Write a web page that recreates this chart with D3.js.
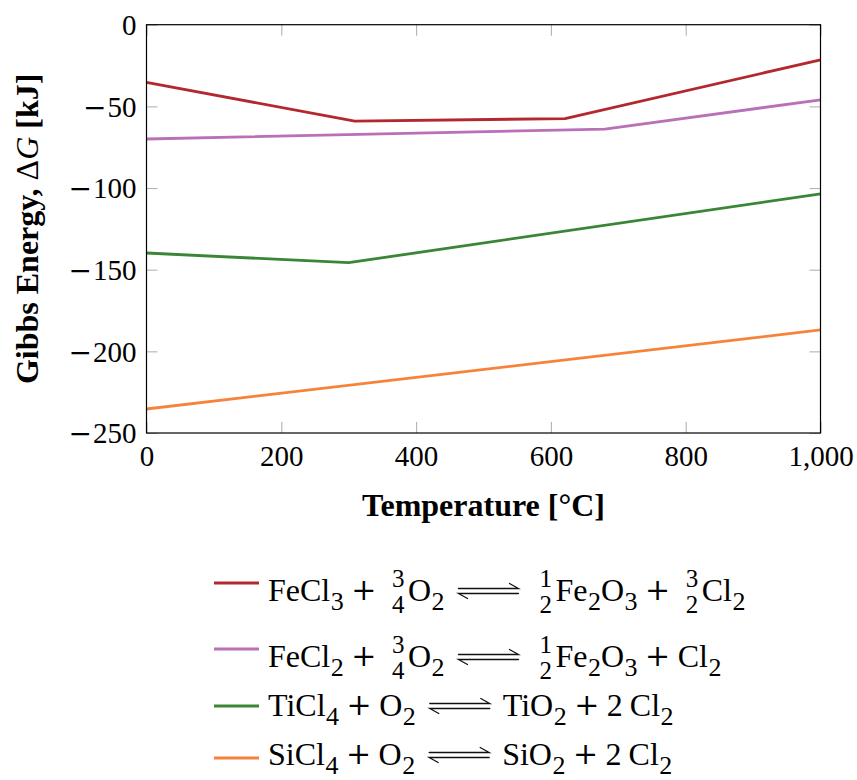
<!DOCTYPE html>
<html>
<head>
<meta charset="utf-8">
<script src="https://cdn.jsdelivr.net/npm/d3@7/dist/d3.min.js"></script>
<style>
  html, body { margin: 0; padding: 0; background: #fff; }
  svg { display: block; font-family: "Liberation Serif", "DejaVu Serif", serif; }
</style>
</head>
<body>
<svg id="chart" width="857" height="780"></svg>
<script>
// Gibbs energy of chlorination/oxidation reactions versus temperature
const tempFeCl3  = [0, 309, 621, 1000];
const gibbsFeCl3 = [-35.3, -59.0, -57.5, -21.5];
const tempFeCl2  = [0, 680, 1000];
const gibbsFeCl2 = [-70.0, -63.9, -46.0];
const tempTiCl4  = [0, 300, 1000];
const gibbsTiCl4 = [-139.8, -145.7, -103.6];
const tempSiCl4  = [0, 1000];
const gibbsSiCl4 = [-235.3, -186.9];

const xTicks = [0, 200, 400, 600, 800, 1000];
const yTicks = [-250, -200, -150, -100, -50, 0];

const seriesColors = ["#b3282e", "#b970b7", "#3a8636", "#f5843a"];

// Legend equations as token lists: t = text, sub = subscript,
// op = binary operator, frac = stacked fraction, arrow = equilibrium, sp = thin space
const legendFeCl3 = [{t:"FeCl"},{sub:"3"},{op:"+"},{frac:["3","4"]},{t:"O"},{sub:"2"},{arrow:1},
                     {frac:["1","2"]},{t:"Fe"},{sub:"2"},{t:"O"},{sub:"3"},{op:"+"},{frac:["3","2"]},{t:"Cl"},{sub:"2"}];
const legendFeCl2 = [{t:"FeCl"},{sub:"2"},{op:"+"},{frac:["3","4"]},{t:"O"},{sub:"2"},{arrow:1},
                     {frac:["1","2"]},{t:"Fe"},{sub:"2"},{t:"O"},{sub:"3"},{op:"+"},{t:"Cl"},{sub:"2"}];
const legendTiCl4 = [{t:"TiCl"},{sub:"4"},{op:"+"},{t:"O"},{sub:"2"},{arrow:1},
                     {t:"TiO"},{sub:"2"},{op:"+"},{t:"2"},{sp:1},{t:"Cl"},{sub:"2"}];
const legendSiCl4 = [{t:"SiCl"},{sub:"4"},{op:"+"},{t:"O"},{sub:"2"},{arrow:1},
                     {t:"SiO"},{sub:"2"},{op:"+"},{t:"2"},{sp:1},{t:"Cl"},{sub:"2"}];

const series = [
  {T: tempFeCl3, G: gibbsFeCl3, legend: legendFeCl3},
  {T: tempFeCl2, G: gibbsFeCl2, legend: legendFeCl2},
  {T: tempTiCl4, G: gibbsTiCl4, legend: legendTiCl4},
  {T: tempSiCl4, G: gibbsSiCl4, legend: legendSiCl4}
];

const svg = d3.select("#chart");
const plot = {left: 146.5, right: 820.5, top: 24.7, bottom: 433};

const x = d3.scaleLinear().domain([0, 1000]).range([plot.left, plot.right]);
const y = d3.scaleLinear().domain([-250, 0]).range([plot.bottom, plot.top]);

const tickFont = 29;
const thousands = v => d3.format(",")(v);

// Inward tick marks on all four sides
function styleAxis(g) {
  g.select(".domain").remove();
  g.selectAll(".tick line").attr("stroke", "#b3b3b3").attr("stroke-width", 1.1);
}

svg.append("g")
  .attr("transform", `translate(0,${plot.bottom})`)
  .call(d3.axisBottom(x).tickValues(xTicks).tickSizeInner(-11).tickSizeOuter(0).tickFormat(thousands))
  .call(styleAxis)
  .call(g => g.selectAll(".tick text")
    .attr("y", 33).attr("dy", 0)
    .style("font-size", tickFont + "px").style("font-family", "Liberation Serif").attr("fill", "#000"));

svg.append("g")
  .attr("transform", `translate(0,${plot.top})`)
  .call(d3.axisTop(x).tickValues(xTicks).tickSizeInner(-11).tickSizeOuter(0).tickFormat(""))
  .call(styleAxis);

// Left axis: labels with a long typographic minus
svg.append("g")
  .attr("transform", `translate(${plot.left},0)`)
  .call(d3.axisLeft(y).tickValues(yTicks).tickSizeInner(-11).tickSizeOuter(0).tickFormat(""))
  .call(styleAxis)
  .call(g => g.selectAll(".tick").each(function(d) {
    const t = d3.select(this).append("text")
      .attr("x", -10).attr("dy", "0.34em").attr("text-anchor", "end").attr("fill", "#000")
      .style("font-size", tickFont + "px").style("font-family", "Liberation Serif");
    if (d < 0) {
      t.append("tspan").style("font-family", "DejaVu Serif").style("font-size", "28px").text("\u2212");
      t.append("tspan").attr("dx", 1).text(Math.abs(d));
    } else {
      t.text(d);
    }
  }));

svg.append("g")
  .attr("transform", `translate(${plot.right},0)`)
  .call(d3.axisRight(y).tickValues(yTicks).tickSizeInner(-11).tickSizeOuter(0).tickFormat(""))
  .call(styleAxis);

// Data lines
const line = d3.line().x(d => x(d[0])).y(d => y(d[1]));
series.forEach((s, i) => {
  svg.append("path")
    .datum(d3.zip(s.T, s.G))
    .attr("d", line)
    .attr("fill", "none")
    .attr("stroke", seriesColors[i])
    .attr("stroke-width", 2.8)
    .attr("stroke-linejoin", "round");
});

// Frame
svg.append("rect")
  .attr("x", plot.left).attr("y", plot.top)
  .attr("width", plot.right - plot.left).attr("height", plot.bottom - plot.top)
  .attr("fill", "none").attr("stroke", "#000").attr("stroke-width", 1.2);

// Axis titles
svg.append("text")
  .attr("x", (plot.left + plot.right) / 2).attr("y", 516)
  .attr("text-anchor", "middle")
  .style("font-size", "32px").style("font-weight", "bold")
  .text("Temperature [\u00b0C]");

const yTitle = svg.append("text")
  .attr("transform", `translate(38,${(plot.top + plot.bottom) / 2}) rotate(-90)`)
  .attr("text-anchor", "middle")
  .style("font-size", "32px").style("font-weight", "bold");
yTitle.append("tspan").text("Gibbs Energy, ");
yTitle.append("tspan").style("font-weight", "normal").text("\u0394");
yTitle.append("tspan").style("font-weight", "normal").style("font-style", "italic").text("G");
yTitle.append("tspan").text(" [kJ]");

// Legend
const mainSize = 32, subSize = 26, fracSize = 25;
const legendX = 214, legendLineLen = 45, legendTextX = 268;
const rowBaselines = [601, 667, 716, 765];
const rowLineOffsets = [-18, -18, -10, -7];

function layoutEquation(g, tokens, x0, base) {
  let cx = x0;
  const addText = (txt, size, xx, yy, anchor, family) => {
    const el = g.append("text").attr("x", xx).attr("y", yy)
      .attr("text-anchor", anchor || "start")
      .style("font-size", size + "px").text(txt);
    if (family) el.style("font-family", family);
    return el.node().getComputedTextLength();
  };
  tokens.forEach(tok => {
    if (tok.t !== undefined) {
      cx += addText(tok.t, mainSize, cx, base);
    } else if (tok.sub !== undefined) {
      cx += addText(tok.sub, subSize, cx + 0.5, base + 8.5) + 0.5;
    } else if (tok.op !== undefined) {
      cx += 7.5;
      cx += addText(tok.op, 30, cx, base - 1, "start", "DejaVu Serif");
      cx += 7.5;
    } else if (tok.frac !== undefined) {
      cx += 8;
      const w = Math.max(...tok.frac.map(d => {
        const t = g.append("text").style("font-size", fracSize + "px").text(d);
        const l = t.node().getComputedTextLength(); t.remove(); return l;
      }));
      addText(tok.frac[0], fracSize, cx + w / 2, base - 14, "middle");
      addText(tok.frac[1], fracSize, cx + w / 2, base + 12, "middle");
      cx += w + 3.5;
    } else if (tok.arrow !== undefined) {
      cx += 14;
      const len = 60, yU = base - 12.5, yL = base - 7.5;
      const ag = g.append("g").attr("stroke", "#111").attr("stroke-width", 1.3).attr("fill", "none")
        .attr("stroke-linecap", "round");
      ag.append("path").attr("d", `M${cx},${yU}H${cx + len}L${cx + len - 9},${yU - 5}`);
      ag.append("path").attr("d", `M${cx + len},${yL}H${cx}L${cx + 9},${yL + 5}`);
      cx += len + 13;
    } else if (tok.sp !== undefined) {
      cx += 7;
    }
  });
}

series.forEach((s, i) => {
  const g = svg.append("g").attr("fill", "#000");
  const base = rowBaselines[i];
  g.append("line")
    .attr("x1", legendX).attr("x2", legendX + legendLineLen)
    .attr("y1", base + rowLineOffsets[i]).attr("y2", base + rowLineOffsets[i])
    .attr("stroke", seriesColors[i]).attr("stroke-width", 2.8);
  layoutEquation(g, s.legend, legendTextX, base);
});
</script>
</body>
</html>
